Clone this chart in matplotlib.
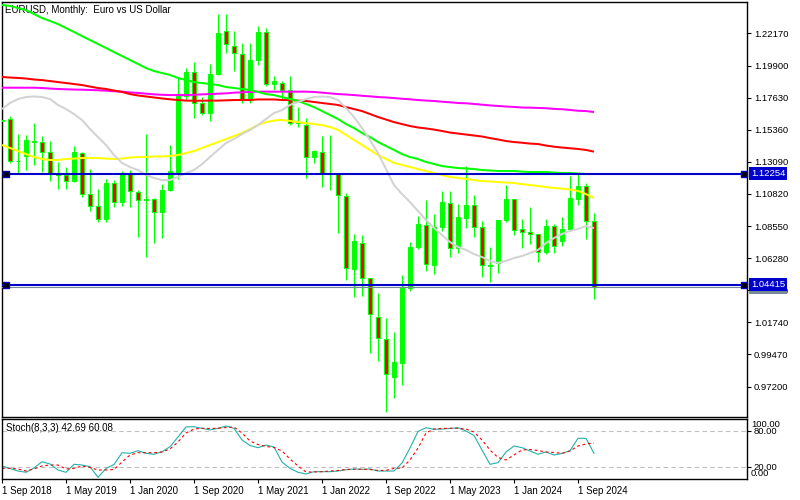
import numpy as np
import pandas as pd
import matplotlib
matplotlib.use('Agg')
import matplotlib.pyplot as plt
import matplotlib.transforms as mtransforms

plt.rcParams['font.family'] = ['Liberation Sans', 'DejaVu Sans']

# monthly bars, EURUSD
dates = pd.date_range('2018-09-01', periods=75, freq='MS')

opens = [1.1600, 1.1610, 1.1315, 1.1350, 1.1446, 1.1450, 1.1376, 1.1222, 1.1215, 1.1173,
         1.1369, 1.1079, 1.0996, 1.0902, 1.1156, 1.1022, 1.1222, 1.1093, 1.1038, 1.1043,
         1.0955, 1.1110, 1.1240, 1.1776, 1.1945, 1.1722, 1.1651, 1.1929, 1.2235, 1.2130,
         1.2071, 1.1746, 1.2029, 1.2225, 1.1859, 1.1864, 1.1817, 1.1581, 1.1569, 1.1345,
         1.1380, 1.1232, 1.1223, 1.1069, 1.0548, 1.0736, 1.0491, 1.0214, 1.0058, 0.9786,
         0.9889, 1.0415, 1.0705, 1.0862, 1.0580, 1.0846, 1.1016, 1.0697, 1.0914, 1.1004,
         1.0846, 1.0574, 1.0591, 1.0898, 1.1048, 1.0832, 1.0811, 1.0796, 1.0669, 1.0855,
         1.0750, 1.0832, 1.1044, 1.1138, 1.0891]
highs = [1.1815, 1.1632, 1.1505, 1.1498, 1.1582, 1.1491, 1.1455, 1.1309, 1.1269, 1.1421,
         1.1380, 1.1257, 1.1116, 1.1187, 1.1180, 1.1243, 1.1250, 1.1109, 1.1505, 1.1050,
         1.1150, 1.1427, 1.1909, 1.1969, 1.2016, 1.1769, 1.1998, 1.2353, 1.2354, 1.2236,
         1.2146, 1.2151, 1.2269, 1.2253, 1.1916, 1.1882, 1.1916, 1.1698, 1.1617, 1.1395,
         1.1491, 1.1498, 1.1223, 1.1086, 1.0798, 1.0791, 1.0491, 1.0379, 1.0203, 1.0104,
         1.0509, 1.0744, 1.0926, 1.1039, 1.0940, 1.1103, 1.1103, 1.1012, 1.1279, 1.1074,
         1.0893, 1.0704, 1.0898, 1.1145, 1.1048, 1.0907, 1.0987, 1.0796, 1.0903, 1.0869,
         1.0921, 1.1209, 1.1228, 1.1157, 1.0949]
lows = [1.1527, 1.1302, 1.1220, 1.1250, 1.1286, 1.1238, 1.1175, 1.1114, 1.1114, 1.1165,
        1.1062, 1.0963, 1.0885, 1.0885, 1.0987, 1.0999, 1.0991, 1.0779, 1.0637, 1.0732,
        1.0770, 1.1100, 1.1185, 1.1750, 1.1616, 1.1639, 1.1599, 1.1925, 1.2076, 1.1953,
        1.1723, 1.1723, 1.1993, 1.1845, 1.1817, 1.1753, 1.1569, 1.1555, 1.1195, 1.1300,
        1.1129, 1.1110, 1.0808, 1.0473, 1.0354, 1.0359, 0.9959, 0.9903, 0.9542, 0.9641,
        0.9731, 1.0398, 1.0693, 1.0539, 1.0516, 1.0820, 1.0638, 1.0666, 1.0839, 1.0775,
        1.0492, 1.0461, 1.0521, 1.0886, 1.0792, 1.0698, 1.0728, 1.0598, 1.0657, 1.0666,
        1.0712, 1.0820, 1.1004, 1.0763, 1.0337]
closes = [1.1604, 1.1315, 1.1318, 1.1462, 1.1455, 1.1375, 1.1222, 1.1218, 1.1173, 1.1376,
          1.1079, 1.0996, 1.0902, 1.1156, 1.1022, 1.1227, 1.1102, 1.1038, 1.1043, 1.0955,
          1.1110, 1.1244, 1.1776, 1.1945, 1.1726, 1.1651, 1.1929, 1.2217, 1.2140, 1.2080,
          1.1746, 1.2029, 1.2225, 1.1859, 1.1880, 1.1817, 1.1581, 1.1592, 1.1345, 1.1386,
          1.1232, 1.1223, 1.1074, 1.0556, 1.0748, 1.0491, 1.0233, 1.0061, 0.9807, 0.9894,
          1.0419, 1.0705, 1.0869, 1.0587, 1.0846, 1.1025, 1.0697, 1.0917, 1.1004, 1.0846,
          1.0577, 1.0578, 1.0898, 1.1046, 1.0827, 1.0813, 1.0796, 1.0669, 1.0855, 1.0716,
          1.0832, 1.1051, 1.1138, 1.0891, 1.0424]

# moving averages
ma_gray = [1.1682, 1.1725, 1.1753, 1.1767, 1.1771, 1.1767, 1.1753, 1.1711, 1.1682, 1.1647,
           1.1605, 1.1541, 1.1484, 1.1428, 1.1357, 1.1301, 1.1272, 1.1251, 1.1216, 1.1195,
           1.1180, 1.1180, 1.1202, 1.1230, 1.1251, 1.1293, 1.1343, 1.1393, 1.1442, 1.1470,
           1.1506, 1.1534, 1.1569, 1.1612, 1.1654, 1.1675, 1.1711, 1.1732, 1.1753, 1.1767,
           1.1771, 1.1767, 1.1746, 1.1689, 1.1626, 1.1548, 1.1463, 1.1371, 1.1258, 1.1145,
           1.1081, 1.1025, 1.0961, 1.0898, 1.0841, 1.0792, 1.0742, 1.0707, 1.0686, 1.0657,
           1.0636, 1.0608, 1.0594, 1.0608, 1.0629, 1.0643, 1.0664, 1.0686, 1.0735, 1.0770,
           1.0799, 1.0820, 1.0834, 1.0855, 1.0841]
ma_yellow = [1.1428, 1.1407, 1.1385, 1.1364, 1.1343, 1.1329, 1.1322, 1.1322, 1.1329, 1.1332,
             1.1336, 1.1336, 1.1336, 1.1332, 1.1329, 1.1332, 1.1340, 1.1343, 1.1343, 1.1347,
             1.1347, 1.1350, 1.1357, 1.1371, 1.1385, 1.1407, 1.1428, 1.1449, 1.1470, 1.1491,
             1.1513, 1.1541, 1.1569, 1.1590, 1.1601, 1.1605, 1.1598, 1.1590, 1.1583, 1.1576,
             1.1569, 1.1555, 1.1534, 1.1499, 1.1463, 1.1428, 1.1393, 1.1357, 1.1329, 1.1301,
             1.1287, 1.1272, 1.1258, 1.1244, 1.1230, 1.1216, 1.1202, 1.1195, 1.1188, 1.1180,
             1.1173, 1.1170, 1.1166, 1.1163, 1.1159, 1.1152, 1.1145, 1.1138, 1.1131, 1.1124,
             1.1120, 1.1113, 1.1103, 1.1081, 1.1053]
ma_green = [1.2418, 1.2411, 1.2396, 1.2382, 1.2354, 1.2326, 1.2305, 1.2283, 1.2255, 1.2227,
            1.2198, 1.2170, 1.2142, 1.2114, 1.2085, 1.2057, 1.2029, 1.2001, 1.1972, 1.1951,
            1.1937, 1.1923, 1.1902, 1.1887, 1.1873, 1.1866, 1.1859, 1.1852, 1.1838, 1.1831,
            1.1824, 1.1817, 1.1803, 1.1788, 1.1781, 1.1767, 1.1753, 1.1739, 1.1718, 1.1696,
            1.1668, 1.1640, 1.1612, 1.1576, 1.1548, 1.1513, 1.1484, 1.1449, 1.1421, 1.1393,
            1.1364, 1.1343, 1.1329, 1.1308, 1.1294, 1.1279, 1.1272, 1.1265, 1.1262, 1.1258,
            1.1251, 1.1248, 1.1244, 1.1244, 1.1244, 1.1240, 1.1237, 1.1237, 1.1237, 1.1233,
            1.1230, 1.1230, 1.1226, 1.1223, 1.1223]
ma_red = [1.1909, 1.1905, 1.1902, 1.1898, 1.1891, 1.1887, 1.1880, 1.1873, 1.1866, 1.1859,
          1.1852, 1.1841, 1.1831, 1.1824, 1.1813, 1.1803, 1.1788, 1.1778, 1.1771, 1.1764,
          1.1757, 1.1751, 1.1746, 1.1742, 1.1741, 1.1741, 1.1742, 1.1742, 1.1744, 1.1746,
          1.1746, 1.1746, 1.1750, 1.1750, 1.1750, 1.1746, 1.1746, 1.1742, 1.1739, 1.1732,
          1.1725, 1.1718, 1.1711, 1.1696, 1.1682, 1.1668, 1.1647, 1.1626, 1.1608, 1.1590,
          1.1576, 1.1562, 1.1552, 1.1545, 1.1537, 1.1527, 1.1516, 1.1509, 1.1502, 1.1495,
          1.1488, 1.1477, 1.1467, 1.1456, 1.1449, 1.1444, 1.1438, 1.1435, 1.1424, 1.1416,
          1.1410, 1.1405, 1.1400, 1.1393, 1.1381]
ma_magenta = [1.1833, 1.1833, 1.1833, 1.1833, 1.1833, 1.1831, 1.1827, 1.1824, 1.1822, 1.1820,
              1.1819, 1.1817, 1.1815, 1.1812, 1.1808, 1.1805, 1.1800, 1.1796, 1.1791, 1.1786,
              1.1783, 1.1781, 1.1781, 1.1781, 1.1783, 1.1786, 1.1788, 1.1791, 1.1793, 1.1798,
              1.1800, 1.1803, 1.1805, 1.1805, 1.1805, 1.1805, 1.1805, 1.1805, 1.1805, 1.1803,
              1.1798, 1.1793, 1.1788, 1.1785, 1.1781, 1.1776, 1.1772, 1.1767, 1.1764, 1.1760,
              1.1755, 1.1751, 1.1746, 1.1742, 1.1739, 1.1734, 1.1730, 1.1725, 1.1723, 1.1718,
              1.1713, 1.1708, 1.1704, 1.1700, 1.1697, 1.1693, 1.1692, 1.1690, 1.1688, 1.1683,
              1.1681, 1.1676, 1.1670, 1.1668, 1.1661]

# Stochastic(8,3,3)
stoch_main = [21.7, 17.5, 13.3, 11.2, 18.3, 28.8, 25.0, 15.0, 11.2, 24.5,
              23.3, 20.5, 2.8, 17.5, 24.2, 43.8, 42.8, 47.2, 42.8, 41.2,
              45.5, 53.8, 70.0, 86.7, 87.2, 84.5, 81.7, 84.5, 88.3, 84.5,
              65.0, 55.8, 52.2, 56.7, 53.3, 28.3, 17.8, 11.2, 8.3, 12.2,
              12.2, 12.2, 13.3, 15.5, 16.7, 16.2, 16.7, 13.3, 13.3, 13.3,
              26.7, 51.7, 79.2, 85.5, 82.8, 83.3, 84.2, 85.5, 80.0, 72.5,
              48.3, 24.5, 27.2, 45.0, 55.0, 52.2, 46.7, 41.2, 45.0, 40.0,
              42.5, 47.2, 67.8, 67.8, 42.69]
stoch_signal = [17.8, 17.8, 16.7, 13.3, 16.7, 21.7, 23.3, 23.3, 16.7, 17.8,
                21.7, 19.2, 15.0, 15.0, 15.8, 28.3, 40.0, 43.8, 43.8, 43.8,
                45.0, 50.0, 61.7, 76.7, 83.3, 84.5, 84.2, 84.5, 85.8, 86.7,
                76.7, 63.3, 57.5, 54.2, 52.5, 46.7, 33.3, 21.7, 11.7, 11.7,
                12.2, 13.3, 14.2, 15.8, 16.2, 16.2, 15.8, 14.2, 14.2, 17.8,
                18.3, 31.7, 51.7, 76.7, 83.3, 84.2, 84.5, 84.5, 83.3, 78.3,
                65.0, 48.3, 35.8, 31.7, 40.0, 48.3, 49.2, 47.5, 45.0, 44.2,
                42.8, 46.7, 55.0, 58.3, 60.08]

price_ticks = [1.22170, 1.19900, 1.17630, 1.15360, 1.13090, 1.10820, 1.08550,
               1.06280, 1.04010, 1.01740, 0.99470, 0.97200]
date_tick_labels = ['1 Sep 2018', '1 May 2019', '1 Jan 2020', '1 Sep 2020', '1 May 2021',
                    '1 Jan 2022', '1 Sep 2022', '1 May 2023', '1 Jan 2024', '1 Sep 2024']
hlines = [1.12254, 1.04415]
bid = 1.0424

LIME = '#00FF00'
BLUE = '#0000CC'
FS = 6.8

fig = plt.figure(figsize=(8, 5), dpi=100)
W, H = 800, 500
ax = fig.add_axes([2 / W, 83 / H, 745 / W, 415 / H])
ax2 = fig.add_axes([2 / W, 21 / H, 745 / W, 60 / H])

x = np.arange(len(dates))
o = np.array(opens)
c = np.array(closes)
up = c >= o
body_lo = np.minimum(o, c)
body_h = np.maximum(np.abs(c - o), 1e-5)

# candles
ax.vlines(x, lows, highs, color=LIME, lw=0.8, zorder=2)
ax.bar(x[up], body_h[up], bottom=body_lo[up], width=0.55, color=LIME,
       edgecolor=LIME, lw=0.7, zorder=3)
ax.bar(x[~up], body_h[~up], bottom=body_lo[~up], width=0.55, color='#FF0000',
       edgecolor=LIME, lw=0.7, zorder=3)

# moving averages
for vals, col in [(ma_magenta, '#FF00FF'), (ma_red, '#FF0000'), (ma_green, LIME),
                  (ma_yellow, '#FFFF00'), (ma_gray, '#D3D3D3')]:
    ax.plot(x, vals, color=col, lw=1.45, zorder=4, solid_capstyle='butt')

# horizontal levels
trans = mtransforms.blended_transform_factory(ax.transAxes, ax.transData)
ax.axhline(bid, color='#778899', lw=0.8, zorder=5)
ax.text(1.0054, bid - 0.0004, f'{bid:.5f}', transform=trans, ha='left', va='center',
        color='white', fontsize=FS, clip_on=False, zorder=9,
        bbox=dict(boxstyle='square,pad=0.2', fc='#778899', ec='none'))
for lvl in hlines:
    ax.axhline(lvl, color=BLUE, lw=1.5, zorder=6)
    ax.plot([0.006, 0.9956], [lvl, lvl], transform=trans, ls='none', marker='s', ms=5,
            mfc='black', mec=BLUE, mew=1, zorder=7, clip_on=False)
    ax.text(1.0054, lvl, f'{lvl:.5f}', transform=trans, ha='left', va='center',
            color='white', fontsize=FS, clip_on=False, zorder=10,
            bbox=dict(boxstyle='square,pad=0.2', fc=BLUE, ec='none'))

ax.set_xlim(0, 93.125)
ax.set_ylim(0.9505, 1.2439)
ax.set_xticks([])
ax.yaxis.tick_right()
ax.set_yticks(price_ticks)
ax.set_yticklabels([f'{v:.5f}' for v in price_ticks])
ax.tick_params(axis='y', direction='out', length=3, pad=2, labelsize=FS, width=0.8)
for s in ax.spines.values():
    s.set_linewidth(1.0)

ax.text(0.004, 0.981, 'EURUSD, Monthly:  Euro vs US Dollar', transform=ax.transAxes,
        ha='left', va='center', fontsize=7, zorder=1)

# stochastic panel
ax2.axhline(80, color='#C0C0C0', lw=0.8, ls=(0, (4, 3)))
ax2.axhline(20, color='#C0C0C0', lw=0.8, ls=(0, (4, 3)))
ax2.plot(x, stoch_main, color='#20B2AA', lw=0.8)
ax2.plot(x, stoch_signal, color='#FF0000', lw=0.8, ls=(0, (2.5, 2.5)))
ax2.set_xlim(0, 93.125)
ax2.set_ylim(0, 100)
ax2.yaxis.tick_right()
ax2.set_yticks([80, 20])
ax2.set_yticklabels(['80.00', '20.00'])
ax2.tick_params(axis='y', direction='out', length=3, pad=2, labelsize=FS, width=0.8)
trans2 = mtransforms.blended_transform_factory(ax2.transAxes, ax2.transData)
ax2.text(1.0054, 99, '100.00', transform=trans2, ha='left', va='top', fontsize=FS, clip_on=False)
ax2.text(1.0054, 1, '0.00', transform=trans2, ha='left', va='bottom', fontsize=FS, clip_on=False)
ax2.text(0.0054, 0.85, 'Stoch(8,3,3) 42.69 60.08', transform=ax2.transAxes,
         ha='left', va='center', fontsize=7)

tick_pos = [int(np.where(dates == pd.to_datetime(lbl, format='%d %b %Y'))[0][0])
            for lbl in date_tick_labels]
ax2.set_xticks(tick_pos)
ax2.set_xticklabels(date_tick_labels, ha='left')
ax2.tick_params(axis='x', direction='out', length=3, pad=2, labelsize=7, width=0.8)
for s in ax2.spines.values():
    s.set_linewidth(1.0)

fig.savefig('out.png', dpi=100, facecolor='white')
